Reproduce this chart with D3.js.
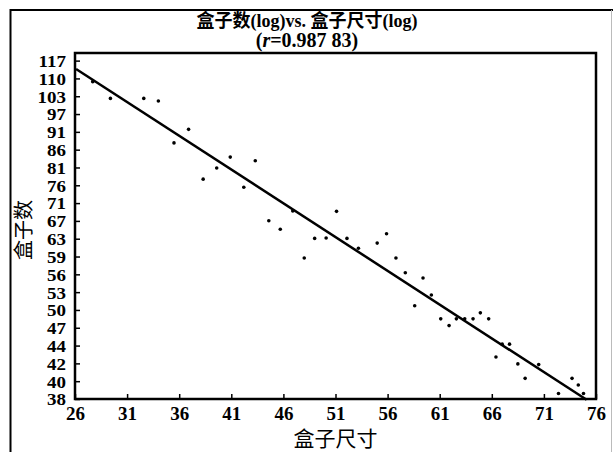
<!DOCTYPE html>
<html>
<head>
<meta charset="utf-8">
<script src="https://cdn.jsdelivr.net/npm/d3@7"></script>
<style>
  body { margin: 0; background: #fff; }
  svg text { fill: #000; }
</style>
</head>
<body>
<div id="chart"></div>
<script>
// box size (x) vs box count (y)
const xTicks = [26, 31, 36, 41, 46, 51, 56, 61, 66, 71, 76];
const yTickLabels = [38, 40, 42, 44, 47, 50, 53, 56, 59, 63, 67, 71, 76, 81, 86, 91, 97, 103, 110, 117];

const boxSize = [27.7, 29.4, 32.6, 34.0, 35.5, 36.9, 38.3, 39.6, 40.9, 42.2, 43.3, 44.6, 45.7, 46.9,
  48.0, 49.0, 50.1, 51.1, 52.1, 53.2, 55.0, 55.9, 56.8, 57.7, 58.6, 59.4, 60.2, 61.1, 61.9, 62.6,
  63.4, 64.2, 64.9, 65.7, 66.4, 67.0, 67.7, 68.5, 69.2, 70.5, 72.4, 73.7, 74.3, 74.8];
const boxCount = [109.1, 103.2, 103.2, 102.3, 89.0, 93.1, 78.9, 81.9, 84.9, 76.8, 83.9, 68.7, 66.8, 71.0,
  60.7, 64.8, 64.9, 70.9, 64.8, 62.7, 63.8, 65.8, 60.7, 57.8, 51.8, 56.8, 53.7, 49.6, 48.5, 49.6,
  49.6, 49.6, 50.6, 49.6, 43.7, 45.6, 45.6, 42.7, 40.7, 42.6, 38.7, 40.7, 39.8, 38.7];

// fitted line end points
const fitSize = [26.1, 75.1];
const fitCount = [113.8, 37.9];

const width = 613, height = 452;
const m = { left: 75, right: 596, top: 53, bottom: 399 };

const svg = d3.select('#chart').append('svg')
  .attr('width', width).attr('height', height);

// outer frame pieces
svg.append('line').attr('x1', 10.5).attr('x2', 10.5).attr('y1', 9).attr('y2', height)
  .attr('stroke', '#000').attr('stroke-width', 2);
svg.append('line').attr('x1', 10).attr('x2', width).attr('y1', 10).attr('y2', 10)
  .attr('stroke', '#000').attr('stroke-width', 2);
svg.append('line').attr('x1', 611.5).attr('x2', 611.5).attr('y1', 10).attr('y2', height)
  .attr('stroke', '#bbb').attr('stroke-width', 1);

const x = d3.scaleLinear().domain([26, 76]).range([m.left, m.right]);
const y = d3.scaleLog().domain([38, 120]).range([m.bottom, m.top]);

// y ticks sit evenly in log space; labels are the rounded values
const yAxisScale = d3.scalePoint().domain(yTickLabels)
  .range([y(38), y(117)]);

const numFont = '"Liberation Serif", "Times New Roman", serif';
const cjkFont = '"Liberation Serif", "Noto Sans CJK SC", serif';

svg.append('g')
  .attr('transform', `translate(${m.left},0)`)
  .call(d3.axisLeft(yAxisScale).tickSizeInner(-5).tickSizeOuter(0).tickPadding(9))
  .call(g => g.select('.domain').remove())
  .call(g => g.selectAll('line').attr('stroke', '#000').attr('stroke-width', 1.5))
  .call(g => g.selectAll('text').attr('font-family', numFont).attr('font-size', 19)
    .attr('font-weight', 'bold').attr('fill', '#000')
    .attr('dy', '0.36em')
    .attr('transform', 'scale(1,0.86)'));

svg.append('g')
  .attr('transform', `translate(0,${m.bottom})`)
  .call(d3.axisBottom(x).tickValues(xTicks).tickFormat(d3.format('d'))
    .tickSizeInner(-5).tickSizeOuter(0).tickPadding(7.5))
  .call(g => g.select('.domain').remove())
  .call(g => g.selectAll('line').attr('stroke', '#000').attr('stroke-width', 1.5))
  .call(g => g.selectAll('text').attr('font-family', numFont).attr('font-size', 19)
    .attr('font-weight', 'bold').attr('fill', '#000'));

// plot frame
svg.append('rect')
  .attr('x', m.left).attr('y', m.top)
  .attr('width', m.right - m.left).attr('height', m.bottom - m.top)
  .attr('fill', 'none').attr('stroke', '#000').attr('stroke-width', 2.5);

// points
svg.append('g').selectAll('circle')
  .data(boxSize.map((d, i) => [d, boxCount[i]]))
  .join('circle')
  .attr('cx', d => x(d[0]))
  .attr('cy', d => y(d[1]))
  .attr('r', 1.8)
  .attr('fill', '#000');

// regression line
const line = d3.line().x(d => x(d[0])).y(d => y(d[1]));
svg.append('path')
  .datum(fitSize.map((d, i) => [d, fitCount[i]]))
  .attr('d', line)
  .attr('fill', 'none')
  .attr('stroke', '#000')
  .attr('stroke-width', 2.5);

// titles
svg.append('text')
  .attr('x', 307).attr('y', 27)
  .attr('text-anchor', 'middle')
  .attr('font-family', cjkFont).attr('font-size', 18)
  .attr('font-weight', 'bold')
  .text('盒子数(log)vs. 盒子尺寸(log)');

const sub = svg.append('text')
  .attr('x', 307).attr('y', 47)
  .attr('text-anchor', 'middle')
  .attr('font-family', numFont).attr('font-size', 20)
  .attr('font-weight', 'bold');
sub.append('tspan').text('(');
sub.append('tspan').attr('font-style', 'italic').text('r');
sub.append('tspan').text('=0.987 83)');

svg.append('text')
  .attr('x', (m.left + m.right) / 2).attr('y', 446)
  .attr('text-anchor', 'middle')
  .attr('font-family', cjkFont).attr('font-size', 21)
  .text('盒子尺寸');

svg.append('text')
  .attr('transform', 'translate(31,230) rotate(-90)')
  .attr('text-anchor', 'middle')
  .attr('font-family', cjkFont).attr('font-size', 20)
  .text('盒子数');
</script>
</body>
</html>
